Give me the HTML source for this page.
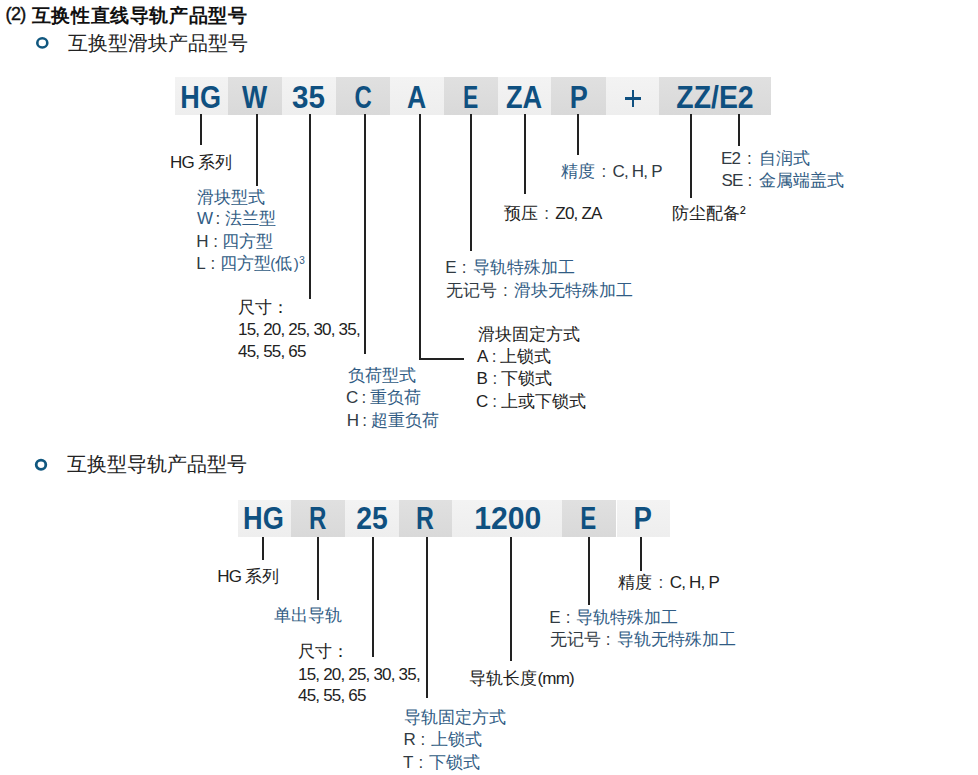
<!DOCTYPE html>
<html><head><meta charset="utf-8">
<style>
html,body{margin:0;padding:0;background:#fff;}
body{width:978px;height:775px;position:relative;overflow:hidden;font-family:"Liberation Sans",sans-serif;}
.t{position:absolute;white-space:nowrap;font-size:17px;line-height:22px;color:#222222;}
.b{color:#315c84;}
.n{font-style:normal;letter-spacing:-0.8px;}
.c{font-weight:normal;}
.pl{position:absolute;left:0;width:978px;height:22px;font-size:17px;line-height:22px;}
.p{position:absolute;top:0;font-style:normal;white-space:nowrap;}
.p.k{color:#222222;} .p.b{color:#315c84;} .p.lb{color:#315c84;letter-spacing:-0.8px;} .p.lg{color:#313a42;letter-spacing:-0.8px;} .p.lk{color:#222222;letter-spacing:-0.8px;}
.p.colon{color:#313a42;} .p.g{color:#313a42;}
.hd{position:absolute;white-space:nowrap;font-size:19px;line-height:24px;font-weight:bold;letter-spacing:0.6px;color:#111;}
.bx{position:absolute;height:37px;}
.l{background:linear-gradient(#f3f3f3,#eeeeee);}
.d{background:linear-gradient(#e0e0e0,#d9d9d9);}
.bx span{position:absolute;left:0;right:0;top:1.5px;text-align:center;font-weight:bold;font-size:31.5px;line-height:37px;color:#0f5080;}
.v{position:absolute;width:2px;background:#222;}
.h{position:absolute;height:2px;background:#222;}
.dot{position:absolute;border:2.6px solid #10577f;border-radius:50%;}
</style></head><body>
<div class="hd" style="left:5.5px;top:1.5px;font-size:18px;font-weight:normal;-webkit-text-stroke:0.4px #111;letter-spacing:-0.6px;">(2)</div><div id="title" class="hd" style="left:31.8px;top:3.5px;">互换性直线导轨产品型号</div>
<svg style="position:absolute;left:34px;top:35px" width="17" height="16"><ellipse cx="8.3" cy="7.9" rx="5" ry="4.6" fill="none" stroke="#10577f" stroke-width="2.6"/></svg>
<div id="sub1" class="t" style="left:68px;top:32.3px;font-size:20px;">互换型滑块产品型号</div>
<div class="bx l" style="left:175px;top:77px;width:53.3px;height:37.5px;"><span id="b1_0" style="line-height:37.5px;transform:translate(-1.00px,-0.5px) scaleX(0.858);">HG</span></div>
<div class="bx d" style="left:228.3px;top:77px;width:53.7px;height:37.5px;"><span id="b1_1" style="line-height:37.5px;transform:translate(-0.20px,-0.5px) scaleX(0.847);">W</span></div>
<div class="bx l" style="left:282px;top:77px;width:53.9px;height:37.5px;"><span id="b1_2" style="line-height:37.5px;transform:translate(-0.50px,-0.5px) scaleX(0.939);">35</span></div>
<div class="bx d" style="left:335.9px;top:77px;width:54.3px;height:37.5px;"><span id="b1_3" style="line-height:37.5px;transform:translate(0.00px,-0.5px) scaleX(0.758);">C</span></div>
<div class="bx l" style="left:390.2px;top:77px;width:53.4px;height:37.5px;"><span id="b1_4" style="line-height:37.5px;transform:translate(-0.20px,-0.5px) scaleX(0.843);">A</span></div>
<div class="bx d" style="left:443.6px;top:77px;width:54.4px;height:37.5px;"><span id="b1_5" style="line-height:37.5px;transform:translate(-0.60px,-0.5px) scaleX(0.725);">E</span></div>
<div class="bx l" style="left:498px;top:77px;width:53.0px;height:37.5px;"><span id="b1_6" style="line-height:37.5px;transform:translate(-0.40px,-0.5px) scaleX(0.862);">ZA</span></div>
<div class="bx d" style="left:551px;top:77px;width:54.6px;height:37.5px;"><span id="b1_7" style="line-height:37.5px;transform:translate(0.50px,-0.5px) scaleX(0.860);">P</span></div>
<div class="bx l" style="left:605.6px;top:77px;width:53.4px;height:37.5px;"><span id="b1_8" style="line-height:37.5px;transform:translate(-0.30px,-0.5px) scaleX(0.942);"></span></div>
<div class="bx d" style="left:659px;top:77px;width:112.0px;height:37.5px;"><span id="b1_9" style="line-height:37.5px;transform:translate(0.00px,-0.5px) scaleX(0.901);">ZZ/E2</span></div>
<div style="position:absolute;left:631.5px;top:89.8px;width:2.6px;height:17.4px;background:#0f5080;"></div>
<div style="position:absolute;left:624.6px;top:97.2px;width:16.2px;height:2.6px;background:#0f5080;"></div>
<div class="v" style="left:200.0px;top:114px;height:31.0px;"></div>
<div class="v" style="left:255.5px;top:114px;height:72.0px;"></div>
<div class="v" style="left:309.0px;top:114px;height:185.0px;"></div>
<div class="v" style="left:363.5px;top:114px;height:240.0px;"></div>
<div class="v" style="left:418.5px;top:114px;height:245.5px;"></div>
<div class="h" style="left:418.5px;top:357.8px;width:45.5px;"></div>
<div class="v" style="left:470.0px;top:114px;height:137.0px;"></div>
<div class="v" style="left:524.3px;top:114px;height:80.0px;"></div>
<div class="v" style="left:577.2px;top:114px;height:41.4px;"></div>
<div class="v" style="left:690.0px;top:114px;height:84.0px;"></div>
<div class="v" style="left:737.5px;top:114px;height:32.0px;"></div>
<div id="hg1" class="pl" style="top:152.1px;"><i class="p lk" style="left:170.0px;">HG</i><i class="p k" style="left:198.0px;">系列</i></div>
<div id="hk1" class="b t" style="left:196.6px;top:186.8px;">滑块型式</div>
<div id="hk2" class="pl" style="top:207.8px;"><i class="p lb" style="left:197.0px;">W</i><i class="p colon" style="left:215.5px;">:</i><i class="p b" style="left:225.0px;">法兰型</i></div>
<div id="hk3" class="pl" style="top:230.7px;"><i class="p lg" style="left:196.2px;">H</i><i class="p colon" style="left:213.3px;">:</i><i class="p b" style="left:222.4px;">四方型</i></div>
<div id="hk4" class="pl" style="top:252.8px;"><i class="p lg" style="left:196.2px;">L</i><i class="p colon" style="left:210.6px;">:</i><i class="p b" style="left:220.0px;">四方型</i><i class="p b" style="left:270.3px;"><span style="font-size:15px">(</span></i><i class="p b" style="left:275.3px;">低</i><i class="p b" style="left:293.8px;"><span style="font-size:15px">)</span></i><i class="p b" style="left:299.3px;"><span style="font-size:10px;position:relative;top:-5px">3</span></i></div>
<div id="cc1" class="t" style="left:238px;top:297.3px;">尺寸：</div>
<div id="cc2" class="t" style="left:238px;top:318.8px;"><i class="n">15, 20, 25, 30, 35,</i></div>
<div id="cc3" class="t" style="left:238px;top:341.0px;"><i class="n">45, 55, 65</i></div>
<div id="fh1" class="b t" style="left:348px;top:365.3px;">负荷型式</div>
<div id="fh2" class="pl" style="top:387.3px;"><i class="p lg" style="left:346.0px;">C</i><i class="p colon" style="left:361.5px;">:</i><i class="p b" style="left:370.0px;">重负荷</i></div>
<div id="fh3" class="pl" style="top:409.9px;"><i class="p lg" style="left:346.7px;">H</i><i class="p colon" style="left:362.3px;">:</i><i class="p b" style="left:371.3px;">超重负荷</i></div>
<div id="ee1" class="pl" style="top:257.0px;"><i class="p lg" style="left:445.2px;">E</i><i class="p colon" style="left:461.7px;">:</i><i class="p b" style="left:473.0px;">导轨特殊加工</i></div>
<div id="ee2" class="pl" style="top:279.5px;"><i class="p g" style="left:445.5px;">无记号</i><i class="p colon" style="left:503.0px;">:</i><i class="p b" style="left:513.6px;">滑块无特殊加工</i></div>
<div id="gd1" class="t" style="left:477.7px;top:323.8px;">滑块固定方式</div>
<div id="gd2" class="pl" style="top:346.3px;"><i class="p lk" style="left:477.0px;">A</i><i class="p colon" style="left:491.8px;">:</i><i class="p k" style="left:500.0px;">上锁式</i></div>
<div id="gd3" class="pl" style="top:368.0px;"><i class="p lk" style="left:476.5px;">B</i><i class="p colon" style="left:492.6px;">:</i><i class="p k" style="left:501.0px;">下锁式</i></div>
<div id="gd4" class="pl" style="top:390.6px;"><i class="p lk" style="left:476.1px;">C</i><i class="p colon" style="left:492.2px;">:</i><i class="p k" style="left:501.0px;">上或下锁式</i></div>
<div id="yy1" class="pl" style="top:202.6px;"><i class="p k" style="left:504.0px;">预压</i><i class="p colon" style="left:544.2px;">:</i><i class="p lk" style="left:555.3px;">Z0, ZA</i></div>
<div id="jd1" class="pl" style="top:160.5px;"><i class="p b" style="left:561.4px;">精度</i><i class="p colon" style="left:601.6px;">:</i><i class="p lg" style="left:612.5px;">C, H, P</i></div>
<div id="fc1" class="t" style="left:672px;top:202.6px;">防尘配备²</div>
<div id="e21" class="pl" style="top:147.7px;"><i class="p lg" style="left:721.0px;">E2</i><i class="p colon" style="left:747.0px;">:</i><i class="p b" style="left:759.0px;">自润式</i></div>
<div id="se1" class="pl" style="top:170.1px;"><i class="p lg" style="left:721.4px;">SE</i><i class="p colon" style="left:747.6px;">:</i><i class="p b" style="left:759.0px;">金属端盖式</i></div>
<svg style="position:absolute;left:33px;top:457px" width="17" height="16"><ellipse cx="8" cy="7.8" rx="4.8" ry="4.6" fill="none" stroke="#10577f" stroke-width="2.8"/></svg>
<div id="sub2" class="t" style="left:67px;top:453.3px;font-size:20px;">互换型导轨产品型号</div>
<div class="bx l" style="left:237.8px;top:499.5px;width:53.0px;height:37.0px;"><span id="b2_0" style="line-height:37.0px;transform:translate(-1.10px,-1px) scaleX(0.863);">HG</span></div>
<div class="bx d" style="left:290.8px;top:499.5px;width:54.0px;height:37.0px;"><span id="b2_1" style="line-height:37.0px;transform:translate(-0.35px,-1px) scaleX(0.765);">R</span></div>
<div class="bx l" style="left:344.8px;top:499.5px;width:54.1px;height:37.0px;"><span id="b2_2" style="line-height:37.0px;transform:translate(0.00px,-1px) scaleX(0.900);">25</span></div>
<div class="bx d" style="left:398.9px;top:499.5px;width:53.2px;height:37.0px;"><span id="b2_3" style="line-height:37.0px;transform:translate(-0.75px,-1px) scaleX(0.785);">R</span></div>
<div class="bx l" style="left:452.1px;top:499.5px;width:110.2px;height:37.0px;"><span id="b2_4" style="line-height:37.0px;transform:translate(0.60px,-1px) scaleX(0.957);">1200</span></div>
<div class="bx d" style="left:562.3px;top:499.5px;width:54.2px;height:37.0px;"><span id="b2_5" style="line-height:37.0px;transform:translate(-0.75px,-1px) scaleX(0.760);">E</span></div>
<div class="bx l" style="left:616.5px;top:499.5px;width:53.2px;height:37.0px;"><span id="b2_6" style="line-height:37.0px;transform:translate(-0.95px,-1px) scaleX(0.875);">P</span></div>
<div class="v" style="left:262.4px;top:536.5px;height:23.8px;"></div>
<div class="v" style="left:316.6px;top:536.5px;height:63.9px;"></div>
<div class="v" style="left:372.3px;top:536.5px;height:120.5px;"></div>
<div class="v" style="left:426.2px;top:536.5px;height:161.5px;"></div>
<div class="v" style="left:509.6px;top:536.5px;height:124.5px;"></div>
<div class="v" style="left:587.9px;top:536.5px;height:68.0px;"></div>
<div class="v" style="left:640.2px;top:536.5px;height:34.7px;"></div>
<div id="hg2" class="pl" style="top:565.6px;"><i class="p lk" style="left:217.3px;">HG</i><i class="p k" style="left:245.0px;">系列</i></div>
<div id="dc2" class="b t" style="left:273.6px;top:605.2px;">单出导轨</div>
<div id="cs1" class="t" style="left:298px;top:640.6px;">尺寸：</div>
<div id="cs2" class="t" style="left:298px;top:663.5px;"><i class="n">15, 20, 25, 30, 35,</i></div>
<div id="cs3" class="t" style="left:298px;top:684.7px;"><i class="n">45, 55, 65</i></div>
<div id="gf1" class="b t" style="left:403.8px;top:707.0px;">导轨固定方式</div>
<div id="gf2" class="pl" style="top:729.4px;"><i class="p lg" style="left:403.5px;">R</i><i class="p colon" style="left:420.4px;">:</i><i class="p b" style="left:431.2px;">上锁式</i></div>
<div id="gf3" class="pl" style="top:751.8px;"><i class="p lg" style="left:403.0px;">T</i><i class="p colon" style="left:418.5px;">:</i><i class="p b" style="left:428.6px;">下锁式</i></div>
<div id="cd1" class="pl" style="top:667.7px;"><i class="p k" style="left:469.0px;">导轨长度</i><i class="p lk" style="left:537.5px;">(mm)</i></div>
<div id="re1" class="pl" style="top:606.5px;"><i class="p lg" style="left:549.3px;">E</i><i class="p colon" style="left:565.8px;">:</i><i class="p b" style="left:575.8px;">导轨特殊加工</i></div>
<div id="re2" class="pl" style="top:628.7px;"><i class="p g" style="left:549.8px;">无记号</i><i class="p colon" style="left:605.7px;">:</i><i class="p b" style="left:617.3px;">导轨无特殊加工</i></div>
<div id="jd2" class="pl" style="top:571.6px;"><i class="p k" style="left:618.4px;">精度</i><i class="p colon" style="left:658.6px;">:</i><i class="p lk" style="left:669.8px;">C, H, P</i></div>
</body></html>
